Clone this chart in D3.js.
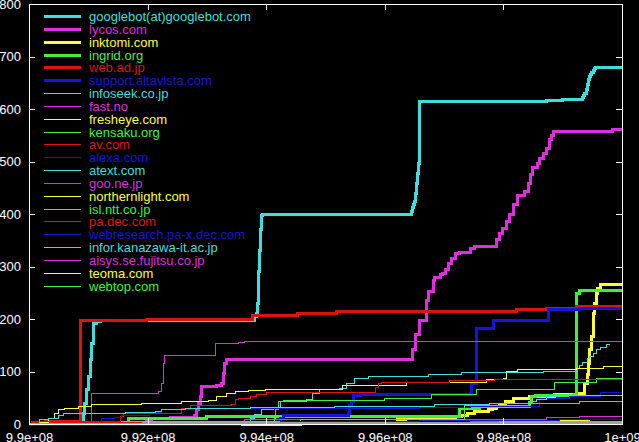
<!DOCTYPE html>
<html>
<head>
<script src="https://d3js.org/d3.v7.min.js"></script>
<style>
    body { margin: 0; background: #000; }
    svg { display: block; }
    text { font-family: "Liberation Sans", Arial, sans-serif; font-size: 13px; }
</style>
</head>
<body>
<svg id="chart" width="639" height="442"></svg>
<script>
    // legend names, in plot order
    var sites = [
        "googlebot(at)googlebot.com", "lycos.com", "inktomi.com", "ingrid.org",
        "web.ad.jp", "support.altavista.com", "infoseek.co.jp", "fast.no",
        "fresheye.com", "kensaku.org", "av.com", "alexa.com", "atext.com",
        "goo.ne.jp", "northernlight.com", "isl.ntt.co.jp", "pa.dec.com",
        "webresearch.pa-x.dec.com", "infor.kanazawa-it.ac.jp",
        "aisys.se.fujitsu.co.jp", "teoma.com", "webtop.com"
    ];

    // [time, cumulative count]
    var googlebot = [[9.9e8,0],[9.90877e8,0],[9.90894e8,8],[9.90916e8,20],[9.90944e8,39],[9.90973e8,65],[9.91e8,90],[9.91029e8,122],[9.91057e8,154],[9.91084e8,179],[9.91096e8,192],[9.91142e8,195],[9.91214e8,198],[9.93782e8,198],[9.93811e8,204],[9.9384e8,211],[9.93853e8,230],[9.93867e8,249],[9.93878e8,290],[9.93895e8,331],[9.93912e8,370],[9.93924e8,398],[9.93946e8,400],[9.96425e8,400],[9.96453e8,404],[9.96475e8,412],[9.96492e8,418],[9.96509e8,423],[9.96526e8,440],[9.96538e8,458],[9.96551e8,477],[9.96565e8,496],[9.96577e8,522],[9.96585e8,563],[9.96593e8,614],[9.9873e8,616],[9.99005e8,618],[9.99342e8,622],[9.99359e8,626],[9.99376e8,630],[9.99393e8,638],[9.9941e8,646],[9.99427e8,652],[9.99443e8,657],[9.9946e8,662],[9.99477e8,666],[9.99494e8,670],[9.99516e8,674],[9.99536e8,677],[9.99561e8,680],[1e9,680]];
    var lycos = [[9.9e8,0],[9.91973e8,0],[9.91985e8,8],[9.92069e8,11],[9.9238e8,12],[9.92546e8,13],[9.92799e8,17],[9.92828e8,27],[9.9285e8,40],[9.92884e8,52],[9.92912e8,71],[9.93052e8,72],[9.93165e8,74],[9.9325e8,77],[9.93277e8,96],[9.93305e8,115],[9.93334e8,123],[9.96425e8,123],[9.96475e8,141],[9.96526e8,170],[9.96593e8,198],[9.96695e8,236],[9.96745e8,252],[9.96813e8,274],[9.96846e8,280],[9.96931e8,284],[9.96981e8,287],[9.97032e8,295],[9.97082e8,305],[9.97133e8,315],[9.97184e8,325],[9.97268e8,326],[9.97352e8,327],[9.97437e8,335],[9.97521e8,339],[9.97841e8,339],[9.97892e8,352],[9.97942e8,362],[9.97993e8,372],[9.98044e8,385],[9.98111e8,400],[9.98178e8,418],[9.98246e8,436],[9.98364e8,442],[9.98415e8,458],[9.98465e8,475],[9.98499e8,488],[9.98567e8,497],[9.98617e8,505],[9.98668e8,515],[9.9873e8,525],[9.98769e8,541],[9.98803e8,550],[9.98841e8,558],[9.99848e8,561],[1e9,561]];
    var inktomi = [[9.9e8,0],[9.9457e8,2],[9.96172e8,2],[9.96206e8,8],[9.96285e8,9],[9.96341e8,13],[9.96959e8,13],[9.97184e8,15],[9.97297e8,17],[9.97403e8,20],[9.97521e8,23],[9.97745e8,27],[9.97824e8,30],[9.97887e8,33],[9.97942e8,36],[9.98027e8,42],[9.98167e8,49],[9.98448e8,53],[9.9887e8,57],[9.99291e8,58],[9.99376e8,77],[9.9941e8,95],[9.99432e8,115],[9.9946e8,141],[9.99489e8,166],[9.99516e8,211],[9.99544e8,230],[9.99573e8,249],[9.99595e8,258],[9.99629e8,265],[1e9,265]];
    var ingrid = [[9.9e8,0],[9.90776e8,3],[9.91653e8,3],[9.91675e8,11],[9.92546e8,11],[9.92997e8,15],[9.97239e8,15],[9.97268e8,30],[9.97605e8,33],[9.98224e8,34],[9.98448e8,41],[9.98477e8,52],[9.98533e8,55],[9.99207e8,56],[9.99236e8,249],[9.99291e8,254],[1e9,254]];
    var webadjp = [[9.9e8,0],[9.90051e8,3],[9.9027e8,4],[9.9086e8,4],[9.90865e8,197],[9.91985e8,200],[9.93777e8,207],[9.94536e8,211],[9.95189e8,215],[9.98224e8,218],[9.9873e8,220],[9.99236e8,223],[1e9,223]];
    var altavista = [[9.9e8,0],[9.93558e8,2],[9.94233e8,11],[9.94288e8,17],[9.95384e8,20],[9.95413e8,36],[9.95442e8,42],[9.95469e8,55],[9.95582e8,57],[9.97437e8,58],[9.97466e8,77],[9.9755e8,182],[9.9783e8,197],[9.98757e8,218],[9.99291e8,220],[1e9,220]];
    var infoseek = [[9.9e8,0],[9.93558e8,0],[9.93727e8,11],[9.93811e8,18],[9.93924e8,27],[9.94115e8,31],[9.94233e8,42],[9.94683e8,47],[9.94789e8,58],[9.94907e8,65],[9.95244e8,68],[9.95357e8,77],[9.95497e8,87],[9.95722e8,90],[9.96733e8,94],[9.97297e8,98],[9.98668e8,100],[9.99236e8,106],[9.99291e8,112],[9.99342e8,118],[9.9941e8,124],[9.9946e8,128],[9.99511e8,134],[9.99573e8,141],[9.99629e8,146],[9.99742e8,152],[9.99797e8,153]];
    var fastno = [[9.9e8,0],[9.91046e8,58],[9.92181e8,62],[9.92238e8,77],[9.92265e8,116],[9.92293e8,130],[9.93137e8,154],[9.9353e8,155],[9.93642e8,157],[1e9,157]];
    var fresheye = [[9.9e8,0],[9.90185e8,2],[9.90325e8,11],[9.90438e8,20],[9.90494e8,27],[9.90607e8,30],[9.90831e8,34],[9.91057e8,38],[9.919e8,40],[9.92575e8,42],[9.93024e8,44],[9.93165e8,52],[9.93334e8,58],[9.93474e8,62],[9.93698e8,63],[9.9398e8,65],[9.95295e8,74],[9.96369e8,80],[9.97718e8,84],[9.97998e8,87],[9.98055e8,100],[9.98246e8,104],[9.99236e8,106],[9.99685e8,109],[1e9,109]];
    var kensaku = [[9.9e8,0],[9.94148e8,11],[9.94165e8,27],[9.94204e8,42],[9.94288e8,45],[9.96003e8,49],[9.96791e8,56],[9.9755e8,65],[9.9887e8,80],[9.99573e8,87],[1e9,87]];
    var avcom = [[9.9e8,0],[9.90101e8,4],[9.91501e8,5],[9.91535e8,14],[9.9159e8,20],[9.92575e8,30],[9.92715e8,36],[9.93418e8,38],[9.93474e8,46],[9.9353e8,49],[9.93727e8,52],[9.9384e8,56],[9.94008e8,60],[9.95835e8,70],[9.9589e8,77],[9.95948e8,80],[9.97099e8,82],[9.97858e8,84],[1e9,84]];
    var alexa = [[9.9e8,0],[9.91226e8,11],[9.9145e8,13],[9.91563e8,17],[9.9204e8,22],[9.92238e8,27],[9.92715e8,30],[9.96593e8,32],[9.97437e8,33],[9.98617e8,48],[9.99123e8,52],[9.99629e8,60],[1e9,60]];
    var atext = [[9.9e8,0],[9.90101e8,0],[9.90185e8,8],[9.90325e8,11],[9.90494e8,17],[9.90578e8,20],[9.91619e8,21],[9.92125e8,24],[9.92238e8,27],[9.92631e8,30],[9.93727e8,31],[9.9516e8,33],[9.96846e8,38],[9.97774e8,39],[9.98448e8,42],[9.98561e8,46],[9.9873e8,52],[9.98954e8,55],[1e9,55]];
    var goo = [[9.9e8,0],[9.93642e8,8],[9.9873e8,12],[9.99291e8,14],[1e9,14]];
    var northernlight = [[9.9e8,0],[9.97998e8,6],[9.9946e8,9],[1e9,9]];
    var islntt = [[9.9e8,0],[9.91653e8,5],[9.9457e8,8],[9.97352e8,36],[9.98448e8,40],[9.99291e8,42],[1e9,42]];
    var padec = [[9.9e8,0],[9.90523e8,2],[9.9457e8,3],[1e9,3]];
    var webresearch = [[9.9e8,0],[9.94233e8,4],[9.96593e8,7],[9.98954e8,8],[1e9,8]];
    var kanazawa = [[9.9e8,0],[9.96256e8,2],[9.9873e8,3],[1e9,3]];
    var aisys = [[9.9e8,0],[9.95076e8,3],[9.97437e8,5],[1e9,5]];
    var teoma = [[9.9e8,0],[9.99039e8,3],[1e9,3]];
    var webtop = [[9.9e8,0],[9.96425e8,3],[9.97942e8,5],[1e9,5]];
    var unlisted = [[9.9e8,0],[9.91922e8,1],[1e9,1]];

    var seriesValues = [googlebot, lycos, inktomi, ingrid, webadjp, altavista,
        infoseek, fastno, fresheye, kensaku, avcom, alexa, atext, goo,
        northernlight, islntt, padec, webresearch, kanazawa, aisys, teoma, webtop];

    var xTicks = [9.9e8, 9.92e8, 9.94e8, 9.96e8, 9.98e8, 1e9];
    var xTickLabels = ["9.9e+08", "9.92e+08", "9.94e+08", "9.96e+08", "9.98e+08", "1e+09"];
    var yTicks = [0, 100, 200, 300, 400, 500, 600, 700, 800];

    var palette = ["#3fdede", "#de2ede", "#ffff33", "#3ef03e", "#de1212", "#1414dc"];

    var plotL = 29, plotR = 622, plotT = 4, plotB = 424;

    var x = d3.scaleLinear().domain([9.9e8, 1e9]).range([plotL, plotR]);
    var y = d3.scaleLinear().domain([0, 800]).range([plotB, plotT]);

    var svg = d3.select("#chart");
    svg.append("rect").attr("width", 639).attr("height", 442).attr("fill", "#000");

    var line = d3.line()
        .x(function(d) { return x(d[0]); })
        .y(function(d) { return y(d[1]); })
        .curve(d3.curveStepAfter);

    var plot = svg.append("g").attr("shape-rendering", "crispEdges");

    seriesValues.forEach(function(vals, i) {
        plot.append("path")
            .attr("d", line(vals))
            .attr("fill", "none")
            .attr("stroke", palette[i % 6])
            .attr("stroke-width", i < 6 ? 3 : 1);
    });

    plot.append("path")
        .attr("d", line(unlisted))
        .attr("fill", "none")
        .attr("stroke", "#a0a0a0")
        .attr("stroke-width", 2);

    // axes: ticks point inward on all four sides
    var fmtX = function(d, i) { return xTickLabels[i]; };

    var axB = svg.append("g").attr("transform", "translate(0," + plotB + ")")
        .call(d3.axisBottom(x).tickValues(xTicks).tickFormat(fmtX).tickSizeInner(-6).tickSizeOuter(0).tickPadding(9));
    var axT = svg.append("g").attr("transform", "translate(0," + plotT + ")")
        .call(d3.axisTop(x).tickValues(xTicks).tickFormat("").tickSizeInner(-6).tickSizeOuter(0));
    var axL = svg.append("g").attr("transform", "translate(" + plotL + ",0)")
        .call(d3.axisLeft(y).tickValues(yTicks).tickSizeInner(-6).tickSizeOuter(0).tickPadding(8));
    var axR = svg.append("g").attr("transform", "translate(" + plotR + ",0)")
        .call(d3.axisRight(y).tickValues(yTicks).tickFormat("").tickSizeInner(-6).tickSizeOuter(0));

    [axB, axT, axL, axR].forEach(function(g) {
        g.select(".domain").remove();
        g.selectAll("line").attr("stroke", "#fff").attr("shape-rendering", "crispEdges");
        g.selectAll("text").attr("fill", "#fff").style("font-size", "13px")
            .style("font-family", '"Liberation Sans", Arial, sans-serif');
    });

    svg.append("rect")
        .attr("x", plotL).attr("y", plotT)
        .attr("width", plotR - plotL).attr("height", plotB - plotT)
        .attr("fill", "none").attr("stroke", "#fff")
        .attr("shape-rendering", "crispEdges");

    // key
    var key = svg.append("g");
    sites.forEach(function(name, i) {
        var ky = Math.round(16 + i * 12.84) + 0.5;
        key.append("line")
            .attr("x1", 44).attr("x2", 81)
            .attr("y1", ky).attr("y2", ky)
            .attr("stroke", palette[i % 6])
            .attr("stroke-width", i < 6 ? 3 : 1)
            .attr("shape-rendering", "crispEdges");
        key.append("text")
            .attr("x", 89).attr("y", ky)
            .attr("dy", "0.35em")
            .attr("fill", palette[i % 6])
            .text(name);
    });
</script>
</body>
</html>
